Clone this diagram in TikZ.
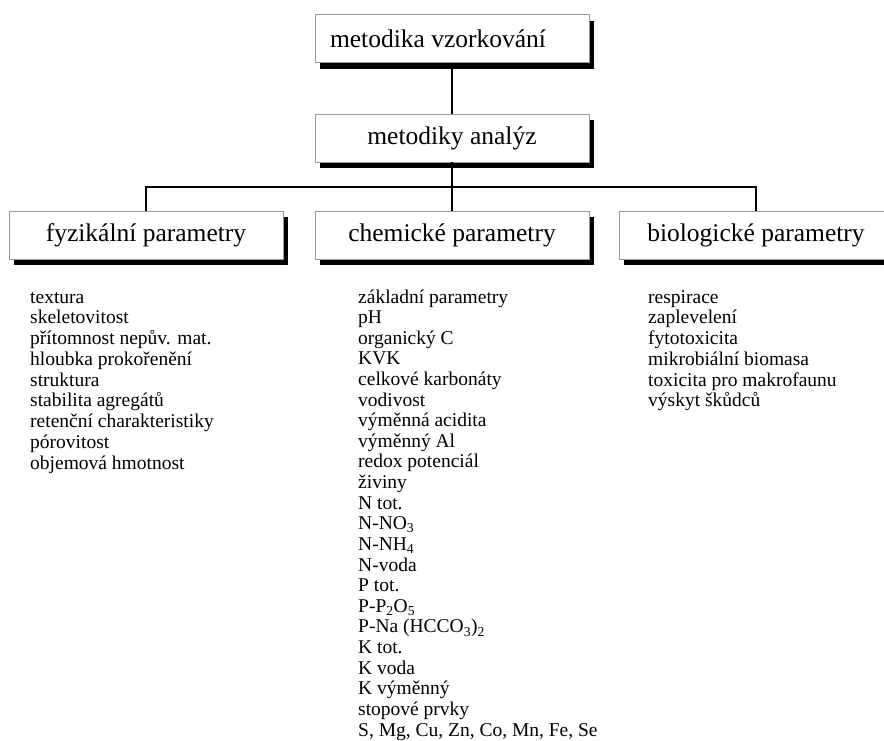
\documentclass[tikz,border=0pt]{standalone}
\usepackage{fontspec}
\setmainfont{Liberation Serif}
\usetikzlibrary{shadows}
\begin{document}
\begin{tikzpicture}[x=1pt,y=-1pt,
  box/.style={rectangle, draw=black!40, fill=white, line width=0.8pt,
    minimum width=274pt, minimum height=48pt, inner sep=0pt,
    font=\fontsize{25.5}{30}\selectfont,
    drop shadow={shadow xshift=5pt, shadow yshift=-6pt, fill=black, opacity=1}},
  conn/.style={line width=2pt, black},
  item/.style={anchor=base west, inner sep=0pt, font=\fontsize{19.5}{20.7}\selectfont}]
\useasboundingbox (0,0) rectangle (884,740);
\fill[white] (0,0) rectangle (884,740);
% boxes
\node[box] (vz) at (452,38.5) {\hspace*{-28pt}metodika vzorkování};
\node[box] (an) at (452,138) {metodiky analýz};
\node[box] (fy) at (146,235) {fyzikální parametry};
\node[box] (ch) at (452,235) {chemické parametry};
\node[box] (bi) at (756,235) {biologické parametry};
% connectors
\coordinate (bus) at (452,187);
\draw[conn] (vz.south) -- (an.north);
\draw[conn] (an.south) -- (ch.north);
\draw[conn] (fy.north) |- (bus) -| (bi.north);
% lists
\foreach \t [count=\i] in {textura, skeletovitost, přítomnost nepův. mat., hloubka prokořenění,
  struktura, stabilita agregátů, retenční charakteristiky, pórovitost, objemová hmotnost}
  \node[item] (f\i) at (30,303+20.75*\i-20.75) {\t};
\foreach \t [count=\i] in {základní parametry, pH, organický C, KVK, celkové karbonáty, vodivost,
  výměnná acidita, výměnný Al, redox potenciál, živiny, N tot., N-NO\textsubscript{3},
  N-NH\textsubscript{4}, N-voda, P tot., P-P\textsubscript{2}O\textsubscript{5},
  P-Na (HCCO\textsubscript{3})\textsubscript{2}, K tot., K voda, K výměnný, stopové prvky,
  {S, Mg, Cu, Zn, Co, Mn, Fe, Se}}
  \node[item] (c\i) at (358,303+20.62*\i-20.62) {\t};
\foreach \t [count=\i] in {respirace, zaplevelení, fytotoxicita, mikrobiální biomasa,
  toxicita pro makrofaunu, výskyt škůdců}
  \node[item] (b\i) at (648,303+20.75*\i-20.75) {\t};
\end{tikzpicture}
\end{document}
